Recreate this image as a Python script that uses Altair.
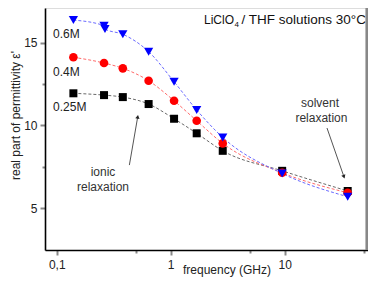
import altair as alt
import pandas as pd

# ---- data ----
freq = [0.14, 0.26, 0.38, 0.64, 1.07, 1.69, 2.86, 9.5, 35.7]
eps_025 = [11.94, 11.83, 11.71, 11.29, 10.40, 9.52, 8.46, 7.25, 6.03]
eps_04 = [14.12, 13.77, 13.45, 12.70, 11.49, 10.28, 8.91, 7.13, 5.92]
freq_06 = [0.14, 0.26, 0.265, 0.38, 0.64, 1.07, 1.69, 2.86, 9.5, 35.7]
eps_06 = [16.37, 16.03, 15.83, 15.51, 14.46, 12.64, 10.93, 9.27, 7.09, 5.68]

series = ["0.25M", "0.4M", "0.6M"]
series_label_y = [11.09, 13.24, 15.51]
series_label_x = 0.0928

x_ticks = [0.1, 0.5, 1, 5, 10, 50]
y_ticks = [5, 7.5, 10, 12.5, 15]

rows = []
for s, xs, ys in [("0.25M", freq, eps_025), ("0.4M", freq, eps_04), ("0.6M", freq_06, eps_06)]:
    for a, b in zip(xs, ys):
        rows.append({"s": s, "f": a, "e": b})
df = pd.DataFrame(rows)

W, H = 323, 242
xscale = alt.Scale(type="log", domain=[0.0789, 53.8], nice=False)
yscale = alt.Scale(domain=[2.46, 17.1], nice=False, zero=False)

xaxis = alt.Axis(
    values=x_ticks,
    labelExpr="datum.value == 0.1 ? '0,1' : datum.value == 1 ? '1' : datum.value == 10 ? '10' : ''",
    tickSize={"condition": {"test": "datum.value == 0.1 || datum.value == 1 || datum.value == 10", "value": 5}, "value": 3},
    tickColor="#888888", tickWidth=2, domainColor="#000000", domainWidth=1.6,
    labelFontSize=12, labelColor="#222222", labelPadding=4, labelFlush=False,
    title="frequency (GHz)", titleFontSize=12, titleFontWeight="normal", titleColor="#222222",
    titleX=181.5, titleY=14.5, titleBaseline="top", titleAlign="center", grid=False,
)
yaxis = alt.Axis(
    values=y_ticks,
    labelExpr="datum.value == 5 ? '5' : datum.value == 10 ? '10' : datum.value == 15 ? '15' : ''",
    tickSize={"condition": {"test": "datum.value == 5 || datum.value == 10 || datum.value == 15", "value": 5}, "value": 3},
    tickColor="#888888", tickWidth=2, domainColor="#000000", domainWidth=1.6,
    labelFontSize=12, labelColor="#222222", labelPadding=3, labelFlush=False,
    title="real part of permittivity ε'", titleFontSize=12, titleFontWeight="normal", titleColor="#222222",
    titleX=-23, titleY=107, titleBaseline="bottom", titleAlign="center", titleAngle=270, grid=False,
)

X = alt.X("f:Q", scale=xscale, axis=xaxis)
Y = alt.Y("e:Q", scale=yscale, axis=yaxis)

color = alt.Color("s:N", scale=alt.Scale(domain=series, range=["#000000", "#ff0000", "#0000ff"]), legend=None)
lstroke = alt.Stroke("s:N", scale=alt.Scale(domain=series, range=["#6a6a6a", "#ff6a6a", "#6a6aff"]), legend=None)
shape = alt.Shape("s:N", scale=alt.Scale(domain=series, range=["square", "circle", "triangle-down"]), legend=None)
size = alt.Size("s:N", scale=alt.Scale(domain=series, range=[64, 85, 100]), legend=None)

base = alt.Chart(df)
lines = base.mark_line(strokeDash=[3, 2], strokeWidth=1, interpolate="monotone").encode(
    x=X, y=Y, stroke=lstroke, detail="s:N")
points = base.mark_point(filled=True, opacity=1).encode(x=X, y=Y, color=color, shape=shape, size=size)

lab_df = pd.DataFrame({"f": [series_label_x] * 3, "e": series_label_y, "t": series})
labels = alt.Chart(lab_df).mark_text(align="left", baseline="middle", fontSize=12, color="#222222").encode(
    x=X, y=Y, text="t:N")

ann_df = pd.DataFrame({
    "f": [0.2547, 0.2547, 20.4, 21.0],
    "e": [7.155, 6.28, 11.33, 10.42],
    "t": ["ionic", "relaxation", "solvent", "relaxation"],
})
ann = alt.Chart(ann_df).mark_text(align="center", baseline="middle", fontSize=12, color="#333333").encode(
    x=X, y=Y, text="t:N")

title_df = pd.DataFrame({"f": [1.96], "e": [16.15]})
t1 = alt.Chart(title_df).mark_text(align="left", baseline="alphabetic", fontSize=12, color="#111111").encode(
    x=X, y=Y, text=alt.value("LiClO"))
t2 = alt.Chart(title_df).mark_text(align="left", baseline="alphabetic", fontSize=8, color="#111111", dx=30.5, dy=3.5).encode(
    x=X, y=Y, text=alt.value("4"))
t3 = alt.Chart(title_df).mark_text(align="left", baseline="alphabetic", fontSize=13.5, color="#111111", dx=37.5).encode(
    x=X, y=Y, text=alt.value("/ THF solutions 30°C"))

arrow_df = pd.DataFrame({
    "f": [0.4337, 23.5], "e": [7.597, 9.84],
    "f2": [0.5135, 33.1], "e2": [10.52, 6.89],
    "a": [10, 160],
})
arrows = alt.Chart(arrow_df).mark_rule(color="#555555", strokeWidth=1).encode(
    x=X, y=Y, x2="f2:Q", y2="e2:Q")
heads = alt.Chart(arrow_df).mark_point(shape="triangle-up", filled=True, color="#222222", opacity=1, size=18).encode(
    x=alt.X("f2:Q", scale=xscale, axis=xaxis), y=alt.Y("e2:Q", scale=yscale, axis=yaxis),
    angle=alt.Angle("a:Q", scale=None))

border = alt.Chart(lab_df).mark_rule(color="#888888", strokeWidth=2.5).encode(
    x=alt.value(W - 1), y=alt.value(0), y2=alt.value(H))

chart = alt.layer(lines, arrows, heads, points, labels, ann, t1, t2, t3, border).properties(
    width=W, height=H,
    autosize=alt.AutoSizeParams(type="none"),
    padding={"left": 37, "top": 0, "right": 0, "bottom": 27},
).configure_view(stroke=None).configure(font="Liberation Sans")

chart.save("out.html", embed_options={"renderer": "svg", "actions": False})
